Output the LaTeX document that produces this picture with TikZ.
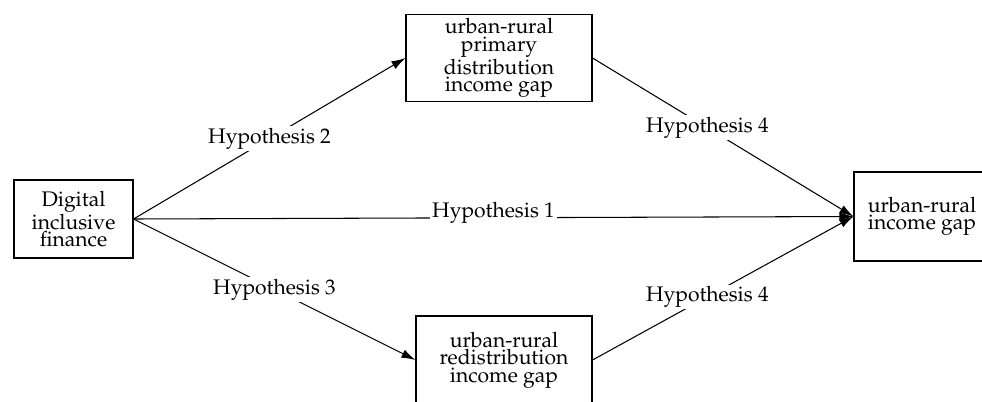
\documentclass[tikz,border=0pt]{standalone}
\usepackage[T1]{fontenc}
\usepackage{mathpazo}
\usetikzlibrary{positioning}
\usetikzlibrary{arrows.meta}

\begin{document}
\begin{tikzpicture}[
    >={Latex[length=8pt,width=5pt]},
    every node/.style={font=\fontsize{12}{10}\selectfont},
    box/.style={draw, line width=0.6pt, align=center, inner sep=2pt},
    hyp/.style={fill=white, inner sep=1pt}
]
\useasboundingbox (0,0) rectangle (19.64,-8.02);
\node[box, minimum width=2.38cm, minimum height=1.56cm] (dif) at (1.47,-4.38) {Digital\\inclusive\\finance};
\node[box, minimum width=3.72cm, minimum height=1.72cm] (prim) at (9.98,-1.16) {urban-rural\\primary\\distribution\\income gap};
\node[box, minimum width=3.52cm, minimum height=1.76cm] (redist) at (10.08,-7.2) {urban-rural\\redistribution\\income gap};
\node[box, minimum width=2.72cm, minimum height=1.78cm] (gap) at (18.44,-4.33) {urban-rural\\income gap};
\draw[->, line width=0.6pt] (dif.east) -- (prim.west) node[hyp, midway] {Hypothesis 2};
\draw[->, line width=0.6pt] (dif.east) -- (redist.west) node[hyp, midway] {Hypothesis 3};
\draw[->, line width=0.6pt] (dif.east) -- (gap.west) node[hyp, midway, yshift=0.1cm] {Hypothesis 1};
\draw[->, line width=0.6pt] (prim.east) -- (gap.west) node[hyp, pos=0.44] {Hypothesis 4};
\draw[->, line width=0.6pt] (redist.east) -- (gap.west) node[hyp, pos=0.44] {Hypothesis 4};
\end{tikzpicture}
\end{document}
